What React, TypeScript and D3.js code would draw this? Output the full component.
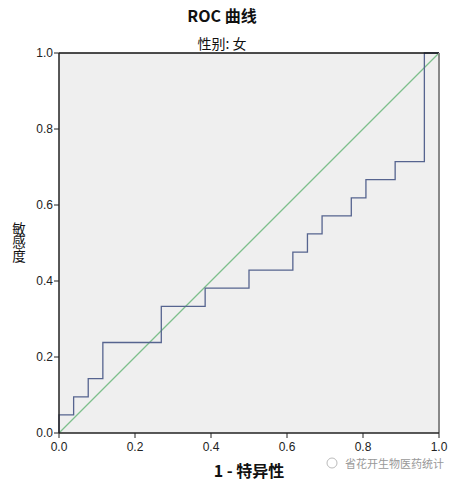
import React from "react";
import * as d3 from "d3";

const fprValues = [0, 0, 0.0385, 0.0385, 0.0769, 0.0769, 0.1154, 0.1154, 0.2692, 0.2692, 0.3846, 0.3846, 0.5, 0.5, 0.6154, 0.6154, 0.6538, 0.6538, 0.6923, 0.6923, 0.7692, 0.7692, 0.8077, 0.8077, 0.8846, 0.8846, 0.9615, 0.9615, 1.0];
const tprValues = [0, 0.0476, 0.0476, 0.0952, 0.0952, 0.1429, 0.1429, 0.2381, 0.2381, 0.3333, 0.3333, 0.381, 0.381, 0.4286, 0.4286, 0.4762, 0.4762, 0.5238, 0.5238, 0.5714, 0.5714, 0.619, 0.619, 0.6667, 0.6667, 0.7143, 0.7143, 1.0, 1.0];
const tickValues = [0, 0.2, 0.4, 0.6, 0.8, 1.0];
const titleText = "ROC 曲线";
const subtitleText = "性别: 女";
const xTitle = "1 - 特异性";
const yTitle = "敏感度";
const watermark = "省花开生物医药统计";

export default function App() {
  const W = 459, H = 483;
  const left = 59, right = 439, top = 53, bottom = 433;
  const x = d3.scaleLinear().domain([0, 1]).range([left, right]);
  const y = d3.scaleLinear().domain([0, 1]).range([bottom, top]);
  const pts = fprValues.map((v, i) => [v, tprValues[i]] as [number, number]);
  const line = d3.line<[number, number]>().x(d => x(d[0])).y(d => y(d[1]));
  const font = "'Liberation Sans', Arial, sans-serif";
  const cjk = "'Noto Sans CJK SC', 'Liberation Sans', sans-serif";
  return (
    <svg width={W} height={H} style={{ position: "absolute", left: 0, top: 0, background: "#fff" }}>
      <rect x={0} y={0} width={W} height={H} fill="#fff" />
      <rect x={left} y={top} width={right - left} height={bottom - top} fill="#efefef" />
      <line x1={x(0)} y1={y(0)} x2={x(1)} y2={y(1)} stroke="#7dbf8c" strokeWidth={1.2} />
      <path d={line(pts) || ""} fill="none" stroke="#56648f" strokeWidth={1.3} />
      <line x1={left} y1={top} x2={right} y2={top} stroke="#111" strokeWidth={1.3} />
      <line x1={right} y1={top} x2={right} y2={bottom} stroke="#888" strokeWidth={2} />
      <line x1={left} y1={top} x2={left} y2={bottom} stroke="#222" strokeWidth={1.5} />
      <line x1={left} y1={bottom} x2={right} y2={bottom} stroke="#222" strokeWidth={1.5} />
      {tickValues.map(t => (
        <g key={"y" + t}>
          <line x1={left - 5} x2={left} y1={y(t)} y2={y(t)} stroke="#222" />
          <text x={left - 6} y={y(t) + 4} textAnchor="end" fontFamily={font} fontSize={12} fill="#222">{t.toFixed(1)}</text>
        </g>
      ))}
      {tickValues.map(t => (
        <g key={"x" + t}>
          <line x1={x(t)} x2={x(t)} y1={bottom} y2={bottom + 5} stroke="#222" />
          <text x={x(t)} y={bottom + 18} textAnchor="middle" fontFamily={font} fontSize={12} fill="#222">{t.toFixed(1)}</text>
        </g>
      ))}
      <text x={222} y={22} textAnchor="middle" fontFamily={cjk} fontSize={16} fontWeight="bold" fill="#111">{titleText}</text>
      <text x={222} y={49} textAnchor="middle" fontFamily={cjk} fontSize={14} fill="#111">{subtitleText}</text>
      <text x={(left + right) / 2} y={477} textAnchor="middle" fontFamily={cjk} fontSize={16} fontWeight="bold" fill="#111">{xTitle}</text>
      <text x={19} y={222} fontFamily={cjk} fontSize={13.5} fill="#111" style={{ writingMode: "vertical-rl" }}>{yTitle}</text>
      <circle cx={332} cy={463} r={5} fill="none" stroke="#bbb" strokeWidth={1} />
      <text x={444} y={468} textAnchor="end" fontFamily={cjk} fontSize={11} fill="#999">{watermark}</text>
    </svg>
  );
}
